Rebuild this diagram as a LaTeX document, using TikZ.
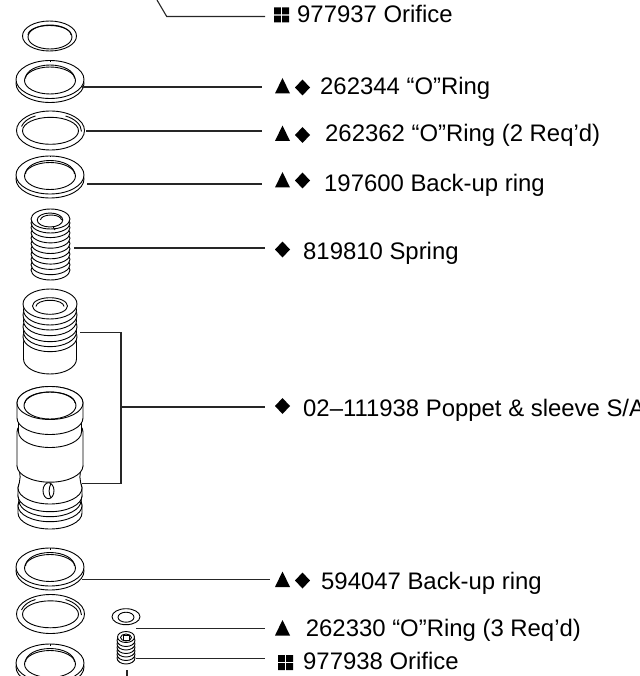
\documentclass[tikz,border=0pt]{standalone}
\usepackage{fontspec}
\setmainfont{Liberation Sans}
\tikzset{
  part/.style={draw=black,fill=white,line width=0.9pt,line join=round},
  leader/.style={draw=black!85,line width=1.1pt},
  lab/.style={anchor=base west,inner sep=0pt,font=\fontsize{23.9}{26}\selectfont,text=black},
  symb/.style={fill=black,draw=none}
}
% segment of a body of revolution: cx, ytop, ybot, rxtop, rxbot, ry
\newcommand{\seg}[6]{\path[part] ({#1-#5},#3) arc[start angle=180,end angle=360,x radius=#5,y radius=-#6] -- ({#1+#4},#2) arc[start angle=0,end angle=180,x radius=#4,y radius=-#6] -- cycle;}
\newcommand{\flatring}[3]{%
  \path[part] (#1,{#2+#3}) ellipse[x radius=34,y radius=19];
  \path[part] (#1,#2) ellipse[x radius=34,y radius=19];
  \path[part] (#1,{#2+1}) ellipse[x radius=25.5,y radius=13.5];
  \draw[part,fill=none] ({#1-24.5},{#2-1}) arc[start angle=180,end angle=0,x radius=24.5,y radius=-13.5];
  \draw[part] (#1,{#2-19}) -- (#1,{#2-17.5});
}
\newcommand{\thinring}[2]{%
  \path[part] (#1,#2) ellipse[x radius=34,y radius=19.5];
  \path[part] (#1,{#2+0.3}) ellipse[x radius=28,y radius=13.5];
  \draw[part,fill=none] ({#1+15},{#2-14.5}) .. controls ({#1+24},{#2-12}) and ({#1+31},{#2-6}) .. ({#1+31},{#2+1});
  \draw[part,fill=none] ({#1-15},{#2-14.5}) .. controls ({#1-21},{#2-13}) and ({#1-27},{#2-9}) .. ({#1-29},{#2-4});
}
\newcommand{\tri}[2]{\fill[symb] (#1,{#2+15.5}) -- ({#1+15},{#2+15.5}) -- ({#1+7.5},#2) -- cycle;}
\newcommand{\dia}[2]{\fill[symb] (#1,{#2+8}) -- ({#1+7.5},#2) -- ({#1+15},{#2+8}) -- ({#1+7.5},{#2+16}) -- cycle;}
\newcommand{\squ}[2]{\fill[symb] (#1,#2) rectangle ({#1+6.8},{#2+6.8}) ({#1+8.2},#2) rectangle ({#1+15},{#2+6.8}) (#1,{#2+8.2}) rectangle ({#1+6.8},{#2+15}) ({#1+8.2},{#2+8.2}) rectangle ({#1+15},{#2+15});}
\begin{document}
\begin{tikzpicture}[x=1pt,y=-1pt]
\useasboundingbox (0,0) rectangle (639,676);
\clip (0,0) rectangle (639,676);
% Ring 1
\path[part] (49.5,36) ellipse[x radius=27,y radius=15];
\path[part] (50,37) ellipse[x radius=22,y radius=12];
\draw[part,fill=none] (28,35) arc[start angle=180,end angle=0,x radius=21.5,y radius=-9.5];
% Rings
\flatring{50}{79.5}{4}
\thinring{50.5}{130.5}
\flatring{50}{175}{4}
% Spring
\foreach \y in {270,264.7,259.4,254.1,248.8,243.5,238.2,232.9,227.6,223,219}{
  \path[part] (50.5,\y) ellipse[x radius=19.5,y radius=10];
}
\path[part] (50,220) ellipse[x radius=12.8,y radius=7];
\draw[part,fill=none] (40.5,220) arc[start angle=180,end angle=0,x radius=10.5,y radius=-5];
\draw[part] (53,226.5) -- (55,230);
% Sleeve
\seg{50}{342.7}{359}{26.5}{26.5}{15}
\foreach \y/\r in {336.7/27,331.7/26.5,326.7/27,320.7/26.5,315/27,310/26.5}{
  \path[part] (50,\y) ellipse[x radius=\r,y radius=15];
}
\path[part] (50,304) ellipse[x radius=27,y radius=15];
\path[part] (50,306) ellipse[x radius=17.5,y radius=8.3];
\draw[part,fill=none] (36,306.5) arc[start angle=180,end angle=0,x radius=14,y radius=-6.2];
% Poppet
\seg{50}{505.7}{513}{32}{32}{16}
\seg{50}{500.7}{505.7}{31}{32}{16}
\seg{50}{495.7}{500.7}{32}{31}{16}
\seg{50}{488}{495.7}{32}{32}{16}
\path[part] (18,488) arc[start angle=180,end angle=360,x radius=32,y radius=-16]
  .. controls (80,480) and (78,474) .. (83,465.7) -- (17,465.7) .. controls (22,474) and (20,480) .. (18,488) -- cycle;
\seg{50}{432}{465.7}{33}{33}{16.5}
\seg{50}{418}{432}{31.5}{31.5}{15.5}
\seg{50}{403}{418}{33}{33}{16.5}
\path[part] (50,403) ellipse[x radius=33,y radius=16.5];
\path[part] (50,405.5) ellipse[x radius=26,y radius=13.5];
\draw[part,fill=none] (25,403) arc[start angle=180,end angle=0,x radius=25,y radius=-11];
\path[part] (48.5,490.7) ellipse[x radius=5.5,y radius=8];
\draw[part,fill=none] (51,483.5) .. controls (48.5,488) and (48.5,494) .. (51,498);
% Lower rings
\flatring{50}{567}{4}
\thinring{50.5}{614}
\flatring{50}{663}{4}
% Small ring
\path[part] (126,616.7) ellipse[x radius=14,y radius=8];
\path[part] (126,617.2) ellipse[x radius=8,y radius=5];
% Small orifice
\foreach \y in {658,654.5,651,647.5,644,640.5}{
  \path[part] (126,\y) ellipse[x radius=9,y radius=6];
}
\path[part] (126,637) ellipse[x radius=8.5,y radius=5.5];
\path[part] (126,637.5) ellipse[x radius=5.5,y radius=3.5];
\path[part] (123,635.5) rectangle (129,640);
% Leader coordinates
\coordinate (a0) at (157,0); \coordinate (a1) at (166.7,16.5); \coordinate (a2) at (265,16.5);
\coordinate (b0) at (82,87); \coordinate (b1) at (262,87);
\coordinate (c0) at (86,131); \coordinate (c1) at (262,131);
\coordinate (d0) at (87,184); \coordinate (d1) at (262,184);
\coordinate (e0) at (74,248); \coordinate (e1) at (265,248);
\coordinate (f0) at (80,332.5); \coordinate (f1) at (121,332.5);
\coordinate (f2) at (121,483.5); \coordinate (f3) at (82,483.5);
\coordinate (f4) at (121,407); \coordinate (f5) at (265,407);
\coordinate (g0) at (82,579.5); \coordinate (g1) at (270,579.5);
\coordinate (h0) at (136,628.5); \coordinate (h1) at (265,628.5);
\coordinate (i0) at (136,658.5); \coordinate (i1) at (265,658.5);
\coordinate (j0) at (127,670); \coordinate (j1) at (127,676);
\draw[leader] (a0) -- (a1) -- (a2);
\draw[leader] (b0) -- (b1);
\draw[leader] (c0) -- (c1);
\draw[leader] (d0) -- (d1);
\draw[leader] (e0) -- (e1);
\draw[leader] (f0) -- (f1) -- (f2) -- (f3);
\draw[leader] (f4) -- (f5);
\draw[leader] (g0) -- (g1);
\draw[leader] (h0) -- (h1);
\draw[leader] (i0) -- (i1);
\draw[leader] (j0) -- (j1);
% Markers
\squ{274}{7.5}
\tri{275}{78}\dia{295}{79.5}
\tri{275}{125.5}\dia{295}{127}
\tri{275}{172}\dia{295}{172.5}
\dia{275}{241.5}
\dia{275}{398}
\tri{275}{571.5}\dia{295}{572.5}
\tri{275}{620}
\squ{278}{655}
% Labels
\node[lab] (t1) at (297,22.7) {977937 Orifice};
\node[lab] (t2) at (320,95) {262344 “O”Ring};
\node[lab] (t3) at (325,141.7) {262362 “O”Ring (2 Req’d)};
\node[lab] (t4) at (324,191.7) {197600 Back-up ring};
\node[lab] (t5) at (303,259) {819810 Spring};
\node[lab] (t6) at (303,416.7) {02–111938 Poppet \& sleeve S/A};
\node[lab] (t7) at (321,589) {594047 Back-up ring};
\node[lab] (t8) at (305.7,636) {262330 “O”Ring (3 Req’d)};
\node[lab] (t9) at (303,669) {977938 Orifice};
\end{tikzpicture}
\end{document}
